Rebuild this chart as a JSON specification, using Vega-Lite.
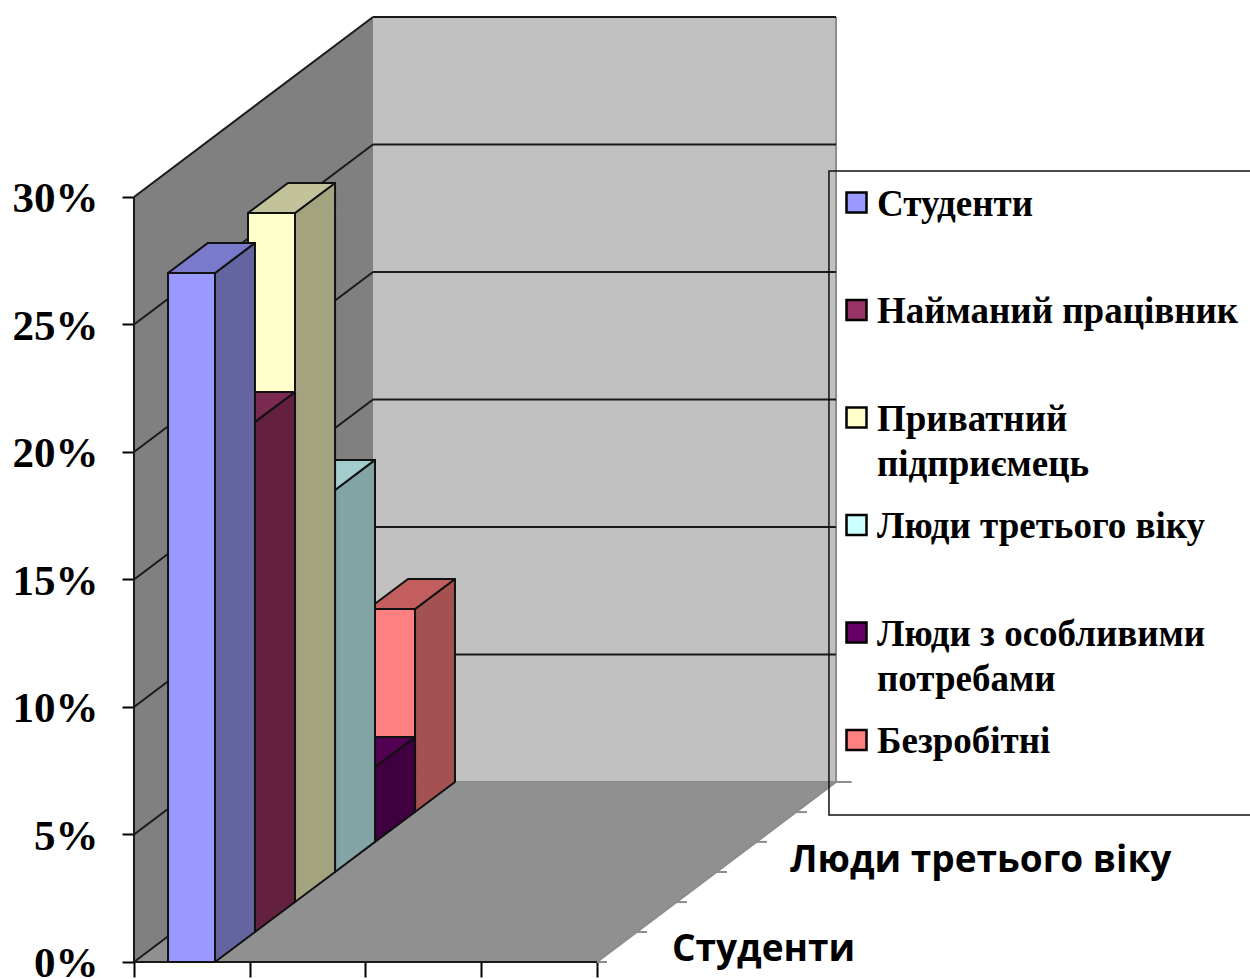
{
"$schema":"https://vega.github.io/schema/vega-lite/v6.json",
"width":1250,"height":979,"padding":0,"autosize":{"type":"none"},"background":"white",
"config":{"view":{"stroke":null}},
"datasets":{
"walls":[
{"k":"ліва стіна","x":0,"y":30,"y0":0},
{"k":"ліва стіна","x":2.065,"y":37.06,"y0":7.06},
{"k":"задня стіна","x":2.065,"y":37.06,"y0":7.06},{"k":"задня стіна","x":6.065,"y":37.06,"y0":7.06},
{"k":"підлога","x":0,"y":0,"y0":0},{"k":"підлога","x":2.065,"y":7.06,"y0":0},{"k":"підлога","x":4,"y":7.06,"y0":0},{"k":"підлога","x":6.065,"y":7.06,"y0":7.06}
],
"grid":[
{"x":0,"y":0,"x2":2.065,"y2":7.06},{"x":0,"y":5,"x2":2.065,"y2":12.06},{"x":0,"y":10,"x2":2.065,"y2":17.06},{"x":0,"y":15,"x2":2.065,"y2":22.06},{"x":0,"y":20,"x2":2.065,"y2":27.06},{"x":0,"y":25,"x2":2.065,"y2":32.06},{"x":0,"y":30,"x2":2.065,"y2":37.06},
{"x":2.065,"y":12.06,"x2":6.065,"y2":12.06},{"x":2.065,"y":17.06,"x2":6.065,"y2":17.06},{"x":2.065,"y":22.06,"x2":6.065,"y2":22.06},{"x":2.065,"y":27.06,"x2":6.065,"y2":27.06},{"x":2.065,"y":32.06,"x2":6.065,"y2":32.06},{"x":2.065,"y":37.06,"x2":6.065,"y2":37.06},
{"x":0,"y":0,"x2":0,"y2":30},{"x":0,"y":0,"x2":4,"y2":0}
],
"soft":[
{"x":2.065,"y":7.06,"x2":6.065,"y2":7.06},{"x":6.065,"y":7.06,"x2":6.065,"y2":37.06},{"x":4,"y":0,"x2":6.065,"y2":7.06},
{"x":4,"y":0,"x2":4.0864,"y2":0},{"x":4.3456,"y":1.176,"x2":4.432,"y2":1.176},{"x":4.691,"y":2.35,"x2":4.778,"y2":2.35},{"x":5.037,"y":3.53,"x2":5.123,"y2":3.53},{"x":5.382,"y":4.71,"x2":5.469,"y2":4.71},{"x":5.728,"y":5.88,"x2":5.814,"y2":5.88},{"x":6.065,"y":7.06,"x2":6.2,"y2":7.06}
],
"bars":[
{"k":"Безробітні","x":2.022,"y":13.84,"y0":5.88},{"k":"Безробітні","x":2.428,"y":13.84,"y0":5.88},
{"k":"Безробітні бік","x":2.428,"y":13.84,"y0":5.88},{"k":"Безробітні бік","x":2.773,"y":15.02,"y0":7.06},
{"k":"Безробітні верх","x":2.022,"y":13.84,"y0":13.84},{"k":"Безробітні верх","x":2.367,"y":15.02,"y0":13.84},{"k":"Безробітні верх","x":2.428,"y":15.02,"y0":13.84},{"k":"Безробітні верх","x":2.773,"y":15.02,"y0":15.02},
{"k":"Люди з особливими потребами","x":1.676,"y":7.65,"y0":4.71},{"k":"Люди з особливими потребами","x":2.082,"y":7.65,"y0":4.71},
{"k":"Люди з особливими потребами бік","x":2.082,"y":7.65,"y0":4.71},{"k":"Люди з особливими потребами бік","x":2.428,"y":8.82,"y0":5.88},
{"k":"Люди з особливими потребами верх","x":1.676,"y":7.65,"y0":7.65},{"k":"Люди з особливими потребами верх","x":2.022,"y":8.82,"y0":7.65},{"k":"Люди з особливими потребами верх","x":2.082,"y":8.82,"y0":7.65},{"k":"Люди з особливими потребами верх","x":2.428,"y":8.82,"y0":8.82},
{"k":"Люди третього віку","x":1.33,"y":18.51,"y0":3.53},{"k":"Люди третього віку","x":1.737,"y":18.51,"y0":3.53},
{"k":"Люди третього віку бік","x":1.737,"y":18.51,"y0":3.53},{"k":"Люди третього віку бік","x":2.082,"y":19.69,"y0":4.71},
{"k":"Люди третього віку верх","x":1.33,"y":18.51,"y0":18.51},{"k":"Люди третього віку верх","x":1.676,"y":19.69,"y0":18.51},{"k":"Люди третього віку верх","x":1.737,"y":19.69,"y0":18.51},{"k":"Люди третього віку верх","x":2.082,"y":19.69,"y0":19.69},
{"k":"Приватний підприємець","x":0.985,"y":29.37,"y0":2.35},{"k":"Приватний підприємець","x":1.391,"y":29.37,"y0":2.35},
{"k":"Приватний підприємець бік","x":1.391,"y":29.37,"y0":2.35},{"k":"Приватний підприємець бік","x":1.737,"y":30.55,"y0":3.53},
{"k":"Приватний підприємець верх","x":0.985,"y":29.37,"y0":29.37},{"k":"Приватний підприємець верх","x":1.33,"y":30.55,"y0":29.37},{"k":"Приватний підприємець верх","x":1.391,"y":30.55,"y0":29.37},{"k":"Приватний підприємець верх","x":1.737,"y":30.55,"y0":30.55},
{"k":"Найманий працівник","x":0.639,"y":21.18,"y0":1.176},{"k":"Найманий працівник","x":1.045,"y":21.18,"y0":1.176},
{"k":"Найманий працівник бік","x":1.045,"y":21.18,"y0":1.176},{"k":"Найманий працівник бік","x":1.391,"y":22.35,"y0":2.35},
{"k":"Найманий працівник верх","x":0.639,"y":21.18,"y0":21.18},{"k":"Найманий працівник верх","x":0.985,"y":22.35,"y0":21.18},{"k":"Найманий працівник верх","x":1.045,"y":22.35,"y0":21.18},{"k":"Найманий працівник верх","x":1.391,"y":22.35,"y0":22.35},
{"k":"Студенти","x":0.294,"y":27.02,"y0":0},{"k":"Студенти","x":0.7,"y":27.02,"y0":0},
{"k":"Студенти бік","x":0.7,"y":27.02,"y0":0},{"k":"Студенти бік","x":1.045,"y":28.2,"y0":1.176},
{"k":"Студенти верх","x":0.294,"y":27.02,"y0":27.02},{"k":"Студенти верх","x":0.639,"y":28.2,"y0":27.02},{"k":"Студенти верх","x":0.7,"y":28.2,"y0":27.02},{"k":"Студенти верх","x":1.045,"y":28.2,"y0":28.2}
],
"box":[{"x":6.004,"x2":9.8,"y":31.02,"y2":5.765}],
"depth":[{"label":"Студенти","x":4.648,"y":0.47},{"label":"Люди третього віку","x":5.667,"y":3.96}]
},
"encoding":{
"x":{"field":"x","type":"quantitative","scale":{"domain":[-1.15767,9.6415],"nice":false,"zero":false},
 "axis":{"orient":"bottom","offset":-17,"values":[0,1,2,3,4],"labels":false,"domain":false,"grid":false,"title":null,"tickSize":15,"tickColor":"black","tickWidth":2}},
"y":{"field":"y","type":"quantitative","scale":{"domain":[-0.6667,37.725],"nice":false,"zero":false},
 "axis":{"orient":"left","offset":-134,"values":[0,5,10,15,20,25,30],"labelExpr":"datum.value+'%'","domain":false,"grid":false,"title":null,"tickSize":12,"tickColor":"black","tickWidth":2,"labelFont":"Liberation Serif","labelFontWeight":"bold","labelFontSize":43,"labelColor":"black","labelPadding":24,"labelBound":false,"labelOverlap":false,"labelOffset":2}}
},
"layer":[
{"data":{"name":"walls"},"mark":{"type":"area","orient":"vertical"},
 "encoding":{"y2":{"field":"y0"},"fill":{"field":"k","type":"nominal","legend":null,"scale":{"domain":["ліва стіна","задня стіна","підлога"],"range":["#808080","#c0c0c0","#909090"]}}}},
{"data":{"name":"soft"},"mark":{"type":"rule","color":"#8c8c8c","strokeWidth":2},"encoding":{"x2":{"field":"x2"},"y2":{"field":"y2"}}},
{"data":{"name":"grid"},"mark":{"type":"rule","color":"#1a1a1a","strokeWidth":2},"encoding":{"x2":{"field":"x2"},"y2":{"field":"y2"}}},
{"data":{"name":"bars"},"mark":{"type":"area","orient":"vertical","stroke":"#111111","strokeWidth":2,"strokeJoin":"round"},
 "encoding":{"y2":{"field":"y0"},
  "color":{"field":"k","type":"nominal",
   "scale":{"domain":["Студенти","Найманий працівник","Приватний підприємець","Люди третього віку","Люди з особливими потребами","Безробітні","Студенти бік","Студенти верх","Найманий працівник бік","Найманий працівник верх","Приватний підприємець бік","Приватний підприємець верх","Люди третього віку бік","Люди третього віку верх","Люди з особливими потребами бік","Люди з особливими потребами верх","Безробітні бік","Безробітні верх"],
    "range":["#9999ff","#993366","#ffffcc","#ccffff","#660066","#ff8080","#6464a0","#7a7acc","#63213f","#7a2950","#a3a380","#c2c29b","#82a4a4","#a3cccc","#400040","#520052","#a35151","#c25e5e"]},
   "legend":{"orient":"none","legendX":838,"legendY":184,"title":null,
    "values":["Студенти","Найманий працівник","Приватний підприємець","Люди третього віку","Люди з особливими потребами","Безробітні"],
    "labelExpr":"datum.label=='Приватний підприємець'?['Приватний','підприємець']:datum.label=='Люди з особливими потребами'?['Люди з особливими','потребами']:datum.label",
    "symbolType":"square","symbolSize":400,"symbolStrokeColor":"black","symbolStrokeWidth":2.5,"symbolOpacity":1,
    "labelFont":"Liberation Serif","labelFontWeight":"bold","labelFontSize":37,"labelColor":"black","labelLimit":0,"labelBaseline":"alphabetic","labelOffset":2,
    "columns":1,"gridAlign":"all","rowPadding":23.5,"padding":0,
    "encoding":{"labels":{"dy":{"value":13},"lineHeight":{"value":45}}}}}}},
{"data":{"name":"box"},"mark":{"type":"rect","fillOpacity":0,"fill":"white","stroke":"#111111","strokeWidth":1.5},"encoding":{"x2":{"field":"x2"},"y2":{"field":"y2"}}},
{"data":{"name":"depth"},"mark":{"type":"text","font":"Open Sans","fontWeight":"bold","fontSize":37,"align":"left","baseline":"middle","color":"black"},
 "encoding":{"text":{"field":"label"}}}
]
}
